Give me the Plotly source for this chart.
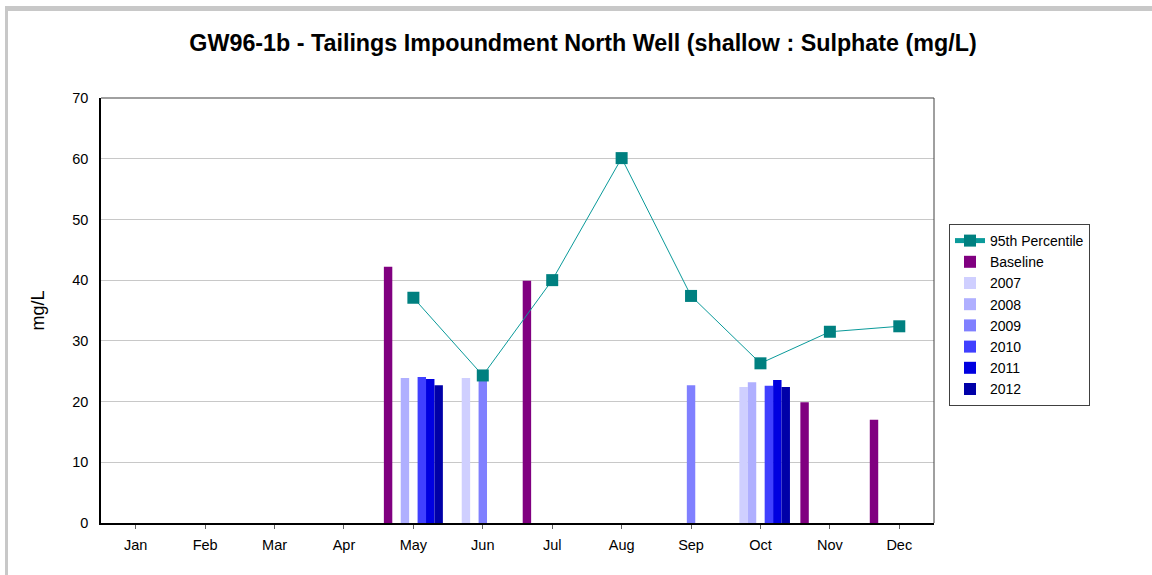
import plotly.graph_objects as go

months = ["Jan", "Feb", "Mar", "Apr", "May", "Jun", "Jul", "Aug", "Sep", "Oct", "Nov", "Dec"]
p95 = [None, None, None, None, 37.1, 24.3, 40.0, 60.1, 37.4, 26.3, 31.5, 32.4]
baseline = [None, None, None, None, 42.2, None, 39.9, None, None, None, 19.9, 17.0]
y2007 = [None, None, None, None, None, 23.9, None, None, None, 22.4, None, None]
y2008 = [None, None, None, None, 23.9, None, None, None, None, 23.2, None, None]
y2009 = [None, None, None, None, None, 24.0, None, None, 22.7, None, None, None]
y2010 = [None, None, None, None, 24.05, None, None, None, None, 22.6, None, None]
y2011 = [None, None, None, None, 23.7, None, None, None, None, 23.55, None, None]
y2012 = [None, None, None, None, 22.7, None, None, None, None, 22.4, None, None]

bar_series = [
    ("Baseline", baseline, "#800080"),
    ("2007", y2007, "#CFCFFF"),
    ("2008", y2008, "#AFAFFF"),
    ("2009", y2009, "#8080FF"),
    ("2010", y2010, "#4040FF"),
    ("2011", y2011, "#0000E0"),
    ("2012", y2012, "#0000A8"),
]

fig = go.Figure()
fig.add_trace(go.Scatter(
    x=months, y=p95, name="95th Percentile", mode="lines+markers",
    line=dict(color="#0A9A9A", width=1),
    marker=dict(symbol="square", size=12, color="#008080"),
    connectgaps=False,
))
for name, vals, col in bar_series:
    fig.add_trace(go.Bar(x=months, y=vals, name=name, marker=dict(color=col, line=dict(width=0))))

# plot area px: left 101, right 934, top 98, bottom 523
L, R, T, B = 101, 934, 98, 523
W, H = R - L, B - T
def px(x):
    return (x - L) / W
def py(y):
    return (B - y) / H

shapes = [
    # outer screenshot frame
    dict(type="rect", xref="paper", yref="paper", x0=px(5), x1=px(1152), y0=py(11), y1=py(6),
         fillcolor="#C8C8C8", line=dict(width=0), layer="above"),
    dict(type="rect", xref="paper", yref="paper", x0=px(5), x1=px(8), y0=py(575), y1=py(11),
         fillcolor="#C8C8C8", line=dict(width=0), layer="above"),
    # plot frame top/right
    dict(type="line", xref="paper", yref="paper", x0=0, x1=1, y0=1, y1=1, line=dict(color="#808080", width=1.5)),
    dict(type="line", xref="paper", yref="paper", x0=1, x1=1, y0=0, y1=1, line=dict(color="#404040", width=1)),
]

fig.update_layout(
    width=1152, height=575,
    margin=dict(l=L, r=1152 - R, t=T, b=575 - B),
    paper_bgcolor="white", plot_bgcolor="white",
    font=dict(family="Liberation Sans, Arial, sans-serif", size=14, color="#000000"),
    title=dict(text="<b>GW96-1b - Tailings Impoundment North Well (shallow : Sulphate (mg/L)</b>",
               x=583 / 1152, xanchor="center", y=1 - 43 / 575, yanchor="middle",
               font=dict(size=23.3, color="#000000")),
    barmode="group", bargap=0.15, bargroupgap=0,
    showlegend=True,
    legend=dict(x=px(949), y=py(224), xanchor="left", yanchor="top",
                bordercolor="#404040", borderwidth=1, bgcolor="white",
                font=dict(size=14), tracegroupgap=0, itemsizing="constant",
                entrywidth=130, entrywidthmode="pixels"),
    shapes=shapes,
)
fig.update_xaxes(type="category", categoryorder="array", categoryarray=months,
                 range=[-0.5, 11.5],
                 showline=True, linecolor="#000000", linewidth=2,
                 ticks="outside", ticklen=4, tickcolor="#606060", showgrid=False,
                 tickfont=dict(size=14.5), ticklabelstandoff=4)
fig.update_yaxes(range=[0, 70], dtick=10, showline=True, linecolor="#000000", linewidth=1.5,
                 showgrid=True, gridcolor="#C8C8C8", gridwidth=1, zeroline=False,
                 ticks="", tickfont=dict(size=14.5), ticklabelstandoff=8,
                 title=dict(text="mg/L", font=dict(size=18), standoff=23))

fig.write_html("out.html", config={"displayModeBar": False},
               post_script="document.body.style.margin='0px';document.body.style.padding='0px';")
